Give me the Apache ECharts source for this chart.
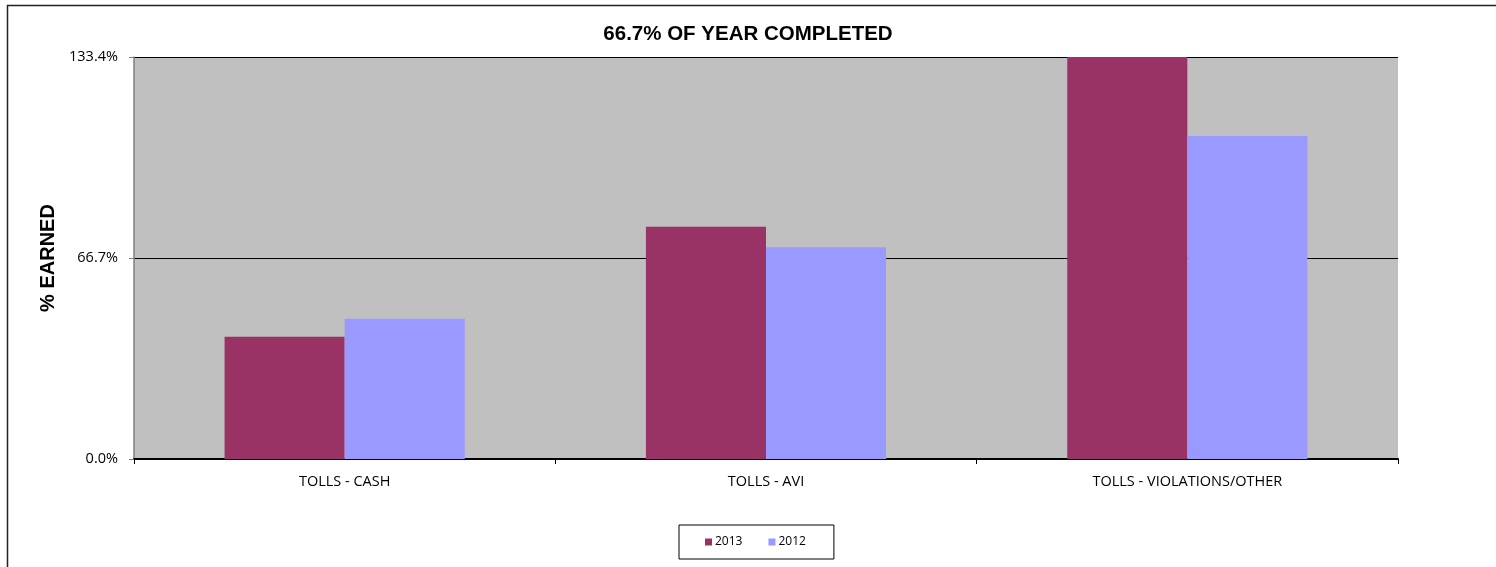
<!DOCTYPE html>
<html>
<head>
<meta charset="utf-8">
<script src="https://cdn.jsdelivr.net/npm/echarts@6/dist/echarts.min.js"></script>
<style>
html,body{margin:0;padding:0;background:#fff;}
#c{width:1496px;height:567px;}
</style>
</head>
<body>
<div id="c"></div>
<script>
const categories = ["TOLLS - CASH", "TOLLS - AVI", "TOLLS - VIOLATIONS/OTHER"];
const series2013 = [40.6, 77.1, 133.4];
const series2012 = [46.5, 70.3, 107.2];
const yTicks = [0, 66.7, 133.4];

const chart = echarts.init(document.getElementById('c'));
chart.setOption({
  animation: false,
  backgroundColor: '#fff',
  title: {
    text: '66.7% OF YEAR COMPLETED',
    left: 'center',
    top: 19,
    textStyle: {fontFamily: 'Liberation Sans', fontWeight: 'bold', fontSize: 20.5, color: '#000'}
  },
  graphic: [{
    type: 'rect', silent: true,
    shape: {x: 7.5, y: 5.5, width: 1600, height: 700},
    style: {fill: 'none', stroke: '#222', lineWidth: 1.5}
  }],
  legend: {
    bottom: 8,
    left: 679,
    padding: [11, 28, 11, 26],
    itemGap: 26,
    borderColor: '#000',
    borderWidth: 1,
    itemWidth: 7,
    itemHeight: 7,
    icon: 'rect',
    textStyle: {fontFamily: 'Open Sans', fontSize: 12, color: '#000', padding: [0, 0, 0, -2]},
    data: ['2013', '2012']
  },
  grid: {left: 134, right: 98, top: 57, bottom: 108, show: true, backgroundColor: '#C0C0C0', borderWidth: 0},
  xAxis: {
    type: 'category',
    data: categories,
    axisLine: {lineStyle: {color: '#000', width: 2}},
    axisTick: {show: true, length: 5, lineStyle: {color: '#000'}},
    axisLabel: {fontFamily: 'Open Sans', fontSize: 14.5, color: '#000', margin: 15}
  },
  yAxis: {
    type: 'value',
    min: 0,
    max: 133.4,
    interval: 66.7,
    name: '% EARNED',
    nameLocation: 'middle',
    nameGap: 76,
    nameTextStyle: {fontFamily: 'Liberation Sans', fontWeight: 'bold', fontSize: 20, color: '#000'},
    axisLine: {show: true, lineStyle: {color: '#808080', width: 1.5}},
    axisTick: {show: true, length: 5, lineStyle: {color: '#808080'}},
    axisLabel: {fontFamily: 'Open Sans', fontSize: 14.5, color: '#000', margin: 16,
      formatter: v => v.toFixed(1) + '%'},
    splitLine: {show: true, lineStyle: {color: '#000', width: 1.2}}
  },
  series: [
    {name: '2013', type: 'bar', data: series2013, barGap: '0%', barCategoryGap: '43%',
     itemStyle: {color: '#993366'}},
    {name: '2012', type: 'bar', data: series2012,
     itemStyle: {color: '#9999FF'}}
  ]
});
</script>
</body>
</html>
